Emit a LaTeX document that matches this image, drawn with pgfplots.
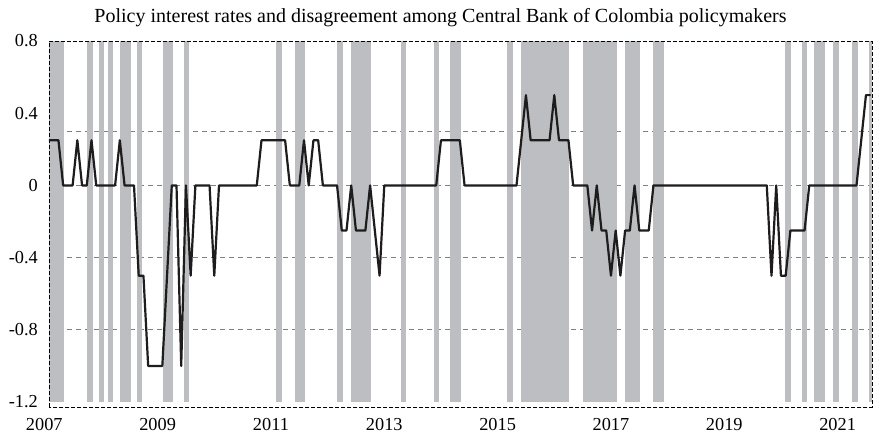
\documentclass[border=0pt]{standalone}
\usepackage{fontspec}
\setmainfont{Liberation Serif}
\usepackage{pgfplots}
\pgfplotsset{compat=1.18}
\usetikzlibrary{calc}
\definecolor{bandgray}{RGB}{189,190,193}
\definecolor{gridgray}{RGB}{128,128,128}
\definecolor{linecol}{RGB}{30,28,28}
\newcommand\band[2]{\addplot[fill=bandgray,draw=none,forget plot] coordinates {(#1,-1.2) (#1,0.8) (#2,0.8) (#2,-1.2)} -- cycle;}
\newcommand\hgrid[1]{\addplot[gridgray, line width=1.1pt, dash pattern=on 5pt off 4pt, forget plot] coordinates {(0,#1) (174.3,#1)};}
\begin{document}
\begin{tikzpicture}
\begin{axis}[
  scale only axis, width=827.8pt, height=366.1pt,
  xmin=-1, xmax=174.3, ymin=-1.228, ymax=0.8,
  clip=false,
  axis line style={draw=none}, major tick length=0pt,
  xtick={-1,23,47,71,95,119,143,167},
  xticklabels={2007,2009,2011,2013,2015,2017,2019,2021},
  ytick={-1.2,-0.8,-0.4,0,0.4,0.8},
  yticklabels={{-1.2},{-0.8},{-0.4},{0},{0.4},{0.8}},
  ticklabel style={font=\fontsize{18.3}{20}\selectfont, text=black},
  xticklabel style={yshift=-8pt},
  yticklabel style={xshift=-3pt},
]
\coordinate (ORG) at (axis cs:0,0);
\hgrid{0.3}
\hgrid{0}
\hgrid{-0.4}
\hgrid{-0.8}
\band{0}{3.18}
\band{7.98}{9.36}
\band{10.55}{11.65}
\band{12.54}{13.62}
\band{15.04}{17.26}
\band{18.57}{19.63}
\band{24.08}{26.30}
\band{28.59}{29.65}
\band{48.03}{49.34}
\band{52.01}{54.21}
\band{61.03}{62.30}
\band{64.0}{68.23}
\band{74.48}{75.60}
\band{81.57}{82.66}
\band{84.96}{87.25}
\band{96.99}{98.22}
\band{99.96}{110.19}
\band{112.98}{120.22}
\band{121.98}{125.16}
\band{127.87}{130.24}
\band{155.87}{157.18}
\band{159.53}{160.59}
\band{161.97}{164.29}
\band{166.03}{167.30}
\band{169.99}{171.37}
\band{173.55}{174.3}
\draw[black, line width=0.8pt, dash pattern=on 4pt off 2pt] (axis cs:0,-1.228) rectangle (axis cs:174.3,0.8);
\addplot[linecol, line width=2.2pt, line join=round] coordinates {
(0,0.25) (1,0.25) (2,0.25) (3,0) (4,0) (5,0) (6,0.25) (7,0) (8,0) (9,0.25)
(10,0) (11,0) (12,0) (13,0) (14,0) (15,0.25) (16,0) (17,0) (18,0) (19,-0.5)
(20,-0.5) (21,-1) (22,-1) (23,-1) (24,-1) (25,-0.5) (26,0) (27,0) (28,-1) (29,0)
(30,-0.5) (31,0) (32,0) (33,0) (34,0) (35,-0.5) (36,0) (37,0) (38,0) (39,0)
(40,0) (41,0) (42,0) (43,0) (44,0) (45,0.25) (46,0.25) (47,0.25) (48,0.25) (49,0.25)
(50,0.25) (51,0) (52,0) (53,0) (54,0.25) (55,0) (56,0.25) (57,0.25) (58,0) (59,0)
(60,0) (61,0) (62,-0.25) (63,-0.25) (64,0) (65,-0.25) (66,-0.25) (67,-0.25) (68,0) (69,-0.25)
(70,-0.5) (71,0) (72,0) (73,0) (74,0) (75,0) (76,0) (77,0) (78,0) (79,0)
(80,0) (81,0) (82,0) (83,0.25) (84,0.25) (85,0.25) (86,0.25) (87,0.25) (88,0) (89,0)
(90,0) (91,0) (92,0) (93,0) (94,0) (95,0) (96,0) (97,0) (98,0) (99,0)
(100,0.25) (101,0.5) (102,0.25) (103,0.25) (104,0.25) (105,0.25) (106,0.25) (107,0.5) (108,0.25) (109,0.25)
(110,0.25) (111,0) (112,0) (113,0) (114,0) (115,-0.25) (116,0) (117,-0.25) (118,-0.25) (119,-0.5)
(120,-0.25) (121,-0.5) (122,-0.25) (123,-0.25) (124,0) (125,-0.25) (126,-0.25) (127,-0.25) (128,0) (129,0)
(130,0) (131,0) (132,0) (133,0) (134,0) (135,0) (136,0) (137,0) (138,0) (139,0)
(140,0) (141,0) (142,0) (143,0) (144,0) (145,0) (146,0) (147,0) (148,0) (149,0)
(150,0) (151,0) (152,0) (153,-0.5) (154,0) (155,-0.5) (156,-0.5) (157,-0.25) (158,-0.25) (159,-0.25)
(160,-0.25) (161,0) (162,0) (163,0) (164,0) (165,0) (166,0) (167,0) (168,0) (169,0)
(170,0) (171,0) (172,0.25) (173,0.5) (174,0.5)
};
\end{axis}
\node[anchor=base, font=\fontsize{20}{22}\selectfont] at ($(ORG)+(391.5pt,163pt)$) {Policy interest rates and disagreement among Central Bank of Colombia policymakers};
\pgfresetboundingbox
\path[use as bounding box] ($(ORG)+(-49pt,185.4pt)$) rectangle ($(ORG)+(826pt,-251.6pt)$);
\end{tikzpicture}
\end{document}
